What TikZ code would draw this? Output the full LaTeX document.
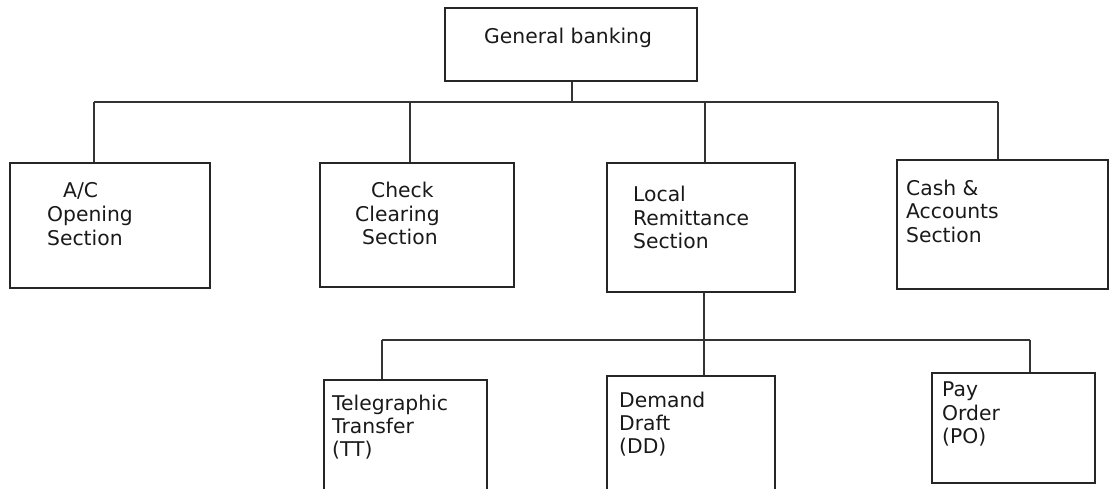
\documentclass[tikz,border=0pt]{standalone}
\usepackage{fontspec}
\setmainfont{DejaVu Sans}
\begin{document}
\begin{tikzpicture}[x=1pt,y=-1pt,
  box/.style={draw=black!85,line width=1.4pt,rectangle,inner sep=0pt},
  txt/.style={anchor=base west,inner sep=0pt,font=\fontsize{20.3}{24}\selectfont,text=black!90},
  conn/.style={draw=black!80,line width=1.4pt}]
\useasboundingbox (0,0) rectangle (1109,489);
\clip (0,0) rectangle (1109,489);
% boxes
\node[box,minimum width=252pt,minimum height=73pt] (gb) at (571,44.5) {};
\node[box,minimum width=200pt,minimum height=125pt] (ac) at (110,225.5) {};
\node[box,minimum width=194pt,minimum height=124pt] (cc) at (417,225) {};
\node[box,minimum width=188pt,minimum height=129pt] (lr) at (701,227.5) {};
\node[box,minimum width=211pt,minimum height=129pt] (ca) at (1002.5,224.5) {};
\node[box,minimum width=163pt,minimum height=120pt] (tt) at (405.5,440) {};
\node[box,minimum width=168pt,minimum height=124pt] (dd) at (691,438) {};
\node[box,minimum width=163pt,minimum height=110pt] (po) at (1013.5,428) {};
% texts
\node[txt] (gbt) at (484,44) {General banking};
\node[txt] (act1) at (63,198) {A/C};
\node[txt] (act2) at (47,222) {Opening};
\node[txt] (act3) at (47,246) {Section};
\node[txt] (cct1) at (371,198) {Check};
\node[txt] (cct2) at (355,222) {Clearing};
\node[txt] (cct3) at (362,245) {Section};
\node[txt] (lrt1) at (633,202) {Local};
\node[txt] (lrt2) at (633,226) {Remittance};
\node[txt] (lrt3) at (633,249) {Section};
\node[txt] (cat1) at (906,196) {Cash \&};
\node[txt] (cat2) at (906,219) {Accounts};
\node[txt] (cat3) at (906,243) {Section};
\node[txt] (ttt1) at (332,410) {Telegraphic};
\node[txt] (ttt2) at (332,433) {Transfer};
\node[txt] (ttt3) at (332,456) {(TT)};
\node[txt] (ddt1) at (619,407) {Demand};
\node[txt] (ddt2) at (619,430) {Draft};
\node[txt] (ddt3) at (619,453) {(DD)};
\node[txt] (pot1) at (942,396) {Pay};
\node[txt] (pot2) at (942,420) {Order};
\node[txt] (pot3) at (942,443) {(PO)};
% connectors, top level
\coordinate (busL) at (94,102);
\coordinate (busR) at (998,102);
\coordinate (jcc) at (410,102);
\coordinate (jlr) at (705,102);
\coordinate (jgb) at (572,102);
\draw[conn] (busL) -- (busR);
\draw[conn] (gb.south -| jgb) -- (jgb);
\draw[conn] (busL) -- (busL |- ac.north);
\draw[conn] (jcc) -- (jcc |- cc.north);
\draw[conn] (jlr) -- (jlr |- lr.north);
\draw[conn] (busR) -- (busR |- ca.north);
% connectors, second level
\coordinate (sbL) at (382,340);
\coordinate (sbR) at (1030,340);
\coordinate (sbM) at (704,340);
\draw[conn] (sbL) -- (sbR);
\draw[conn] (lr.south -| sbM) -- (sbM |- dd.north);
\draw[conn] (sbL) -- (sbL |- tt.north);
\draw[conn] (sbR) -- (sbR |- po.north);
\end{tikzpicture}
\end{document}
